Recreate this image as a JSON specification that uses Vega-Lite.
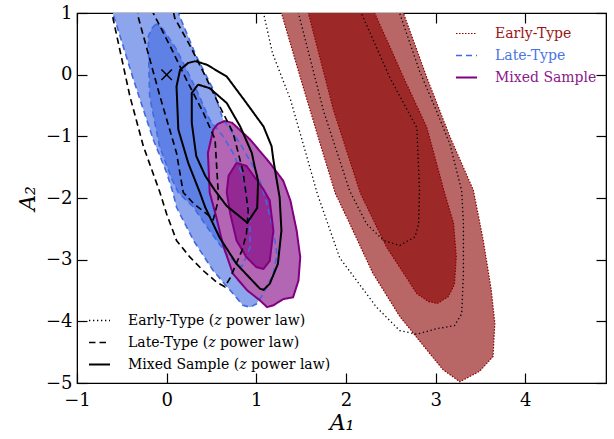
{
  "$schema": "https://vega.github.io/schema/vega-lite/v6.json",
  "width": 529,
  "height": 370,
  "autosize": {"type": "none"},
  "padding": {"left": 77, "top": 13, "right": 8, "bottom": 56},
  "config": {
    "font": "DejaVu Serif",
    "view": {"stroke": "black", "strokeWidth": 1.2},
    "axis": {
      "grid": false,
      "domainColor": "black",
      "tickColor": "black",
      "labelColor": "black",
      "titleColor": "black",
      "labelFont": "DejaVu Serif",
      "titleFont": "DejaVu Serif",
      "labelFontSize": 18,
      "tickSize": -10,
      "tickWidth": 1.2,
      "labelFlush": false,
      "labelOverlap": false,
      "titleFontWeight": "normal",
      "titleFontStyle": "italic",
      "titleFontSize": 22
    },
    "legend": {"labelFont": "DejaVu Serif", "labelLimit": 400}
  },
  "datasets": {
    "regions": [
      {"region": "a", "sample": "Early-Type", "i": 0, "x": 1.23, "y": 1.25},
      {"region": "a", "sample": "Early-Type", "i": 1, "x": 1.28, "y": 1.0},
      {"region": "a", "sample": "Early-Type", "i": 2, "x": 1.49, "y": -0.04},
      {"region": "a", "sample": "Early-Type", "i": 3, "x": 1.71, "y": -1.11},
      {"region": "a", "sample": "Early-Type", "i": 4, "x": 1.88, "y": -1.92},
      {"region": "a", "sample": "Early-Type", "i": 5, "x": 2.04, "y": -2.41},
      {"region": "a", "sample": "Early-Type", "i": 6, "x": 2.3, "y": -3.22},
      {"region": "a", "sample": "Early-Type", "i": 7, "x": 2.6, "y": -3.92},
      {"region": "a", "sample": "Early-Type", "i": 8, "x": 2.9, "y": -4.46},
      {"region": "a", "sample": "Early-Type", "i": 9, "x": 3.08, "y": -4.78},
      {"region": "a", "sample": "Early-Type", "i": 10, "x": 3.27, "y": -4.98},
      {"region": "a", "sample": "Early-Type", "i": 11, "x": 3.49, "y": -4.81},
      {"region": "a", "sample": "Early-Type", "i": 12, "x": 3.64, "y": -4.57},
      {"region": "a", "sample": "Early-Type", "i": 13, "x": 3.66, "y": -4.03},
      {"region": "a", "sample": "Early-Type", "i": 14, "x": 3.62, "y": -3.49},
      {"region": "a", "sample": "Early-Type", "i": 15, "x": 3.53, "y": -2.68},
      {"region": "a", "sample": "Early-Type", "i": 16, "x": 3.42, "y": -1.87},
      {"region": "a", "sample": "Early-Type", "i": 17, "x": 3.16, "y": -1.01},
      {"region": "a", "sample": "Early-Type", "i": 18, "x": 2.9, "y": -0.04},
      {"region": "a", "sample": "Early-Type", "i": 19, "x": 2.64, "y": 1.0},
      {"region": "a", "sample": "Early-Type", "i": 20, "x": 2.58, "y": 1.25},
      {"region": "a", "sample": "Early-Type", "i": 21, "x": 1.23, "y": 1.25},

      {"region": "b", "sample": "Early-Type", "i": 0, "x": 1.54, "y": 1.25},
      {"region": "b", "sample": "Early-Type", "i": 1, "x": 1.58, "y": 1.0},
      {"region": "b", "sample": "Early-Type", "i": 2, "x": 1.86, "y": -0.57},
      {"region": "b", "sample": "Early-Type", "i": 3, "x": 2.16, "y": -1.92},
      {"region": "b", "sample": "Early-Type", "i": 4, "x": 2.45, "y": -2.79},
      {"region": "b", "sample": "Early-Type", "i": 5, "x": 2.79, "y": -3.55},
      {"region": "b", "sample": "Early-Type", "i": 6, "x": 2.92, "y": -3.68},
      {"region": "b", "sample": "Early-Type", "i": 7, "x": 3.02, "y": -3.71},
      {"region": "b", "sample": "Early-Type", "i": 8, "x": 3.14, "y": -3.6},
      {"region": "b", "sample": "Early-Type", "i": 9, "x": 3.21, "y": -3.4},
      {"region": "b", "sample": "Early-Type", "i": 10, "x": 3.23, "y": -2.95},
      {"region": "b", "sample": "Early-Type", "i": 11, "x": 3.2, "y": -2.41},
      {"region": "b", "sample": "Early-Type", "i": 12, "x": 3.1, "y": -1.92},
      {"region": "b", "sample": "Early-Type", "i": 13, "x": 2.9, "y": -0.85},
      {"region": "b", "sample": "Early-Type", "i": 14, "x": 2.64, "y": -0.04},
      {"region": "b", "sample": "Early-Type", "i": 15, "x": 2.32, "y": 1.0},
      {"region": "b", "sample": "Early-Type", "i": 16, "x": 2.25, "y": 1.25},
      {"region": "b", "sample": "Early-Type", "i": 17, "x": 1.54, "y": 1.25},

      {"region": "c", "sample": "Late-Type", "i": 0, "x": -0.65, "y": 1.27},
      {"region": "c", "sample": "Late-Type", "i": 1, "x": -0.6, "y": 1.0},
      {"region": "c", "sample": "Late-Type", "i": 2, "x": -0.37, "y": -0.08},
      {"region": "c", "sample": "Late-Type", "i": 3, "x": -0.15, "y": -1.05},
      {"region": "c", "sample": "Late-Type", "i": 4, "x": 0.0, "y": -1.59},
      {"region": "c", "sample": "Late-Type", "i": 5, "x": 0.07, "y": -1.91},
      {"region": "c", "sample": "Late-Type", "i": 6, "x": 0.11, "y": -2.15},
      {"region": "c", "sample": "Late-Type", "i": 7, "x": 0.3, "y": -2.69},
      {"region": "c", "sample": "Late-Type", "i": 8, "x": 0.52, "y": -3.18},
      {"region": "c", "sample": "Late-Type", "i": 9, "x": 0.71, "y": -3.5},
      {"region": "c", "sample": "Late-Type", "i": 10, "x": 0.85, "y": -3.74},
      {"region": "c", "sample": "Late-Type", "i": 11, "x": 0.93, "y": -3.77},
      {"region": "c", "sample": "Late-Type", "i": 12, "x": 1.0, "y": -3.72},
      {"region": "c", "sample": "Late-Type", "i": 13, "x": 1.08, "y": -3.55},
      {"region": "c", "sample": "Late-Type", "i": 14, "x": 1.19, "y": -3.23},
      {"region": "c", "sample": "Late-Type", "i": 15, "x": 1.23, "y": -2.91},
      {"region": "c", "sample": "Late-Type", "i": 16, "x": 1.19, "y": -2.53},
      {"region": "c", "sample": "Late-Type", "i": 17, "x": 1.12, "y": -2.1},
      {"region": "c", "sample": "Late-Type", "i": 18, "x": 1.04, "y": -1.72},
      {"region": "c", "sample": "Late-Type", "i": 19, "x": 0.95, "y": -1.45},
      {"region": "c", "sample": "Late-Type", "i": 20, "x": 0.82, "y": -1.12},
      {"region": "c", "sample": "Late-Type", "i": 21, "x": 0.63, "y": -0.73},
      {"region": "c", "sample": "Late-Type", "i": 22, "x": 0.52, "y": -0.24},
      {"region": "c", "sample": "Late-Type", "i": 23, "x": 0.33, "y": 0.3},
      {"region": "c", "sample": "Late-Type", "i": 24, "x": 0.13, "y": 1.0},
      {"region": "c", "sample": "Late-Type", "i": 25, "x": 0.07, "y": 1.27},
      {"region": "c", "sample": "Late-Type", "i": 26, "x": -0.65, "y": 1.27},

      {"region": "d", "sample": "Late-Type", "i": 0, "x": -0.12, "y": 0.82},
      {"region": "d", "sample": "Late-Type", "i": 1, "x": -0.16, "y": 0.76},
      {"region": "d", "sample": "Late-Type", "i": 2, "x": -0.205, "y": 0.62},
      {"region": "d", "sample": "Late-Type", "i": 3, "x": -0.2, "y": 0.22},
      {"region": "d", "sample": "Late-Type", "i": 4, "x": -0.19, "y": -0.35},
      {"region": "d", "sample": "Late-Type", "i": 5, "x": -0.08, "y": -1.16},
      {"region": "d", "sample": "Late-Type", "i": 6, "x": 0.06, "y": -1.7},
      {"region": "d", "sample": "Late-Type", "i": 7, "x": 0.13, "y": -1.91},
      {"region": "d", "sample": "Late-Type", "i": 8, "x": 0.3, "y": -2.15},
      {"region": "d", "sample": "Late-Type", "i": 9, "x": 0.48, "y": -2.53},
      {"region": "d", "sample": "Late-Type", "i": 10, "x": 0.67, "y": -2.91},
      {"region": "d", "sample": "Late-Type", "i": 11, "x": 0.78, "y": -3.07},
      {"region": "d", "sample": "Late-Type", "i": 12, "x": 0.84, "y": -3.11},
      {"region": "d", "sample": "Late-Type", "i": 13, "x": 0.93, "y": -2.8},
      {"region": "d", "sample": "Late-Type", "i": 14, "x": 0.93, "y": -2.37},
      {"region": "d", "sample": "Late-Type", "i": 15, "x": 0.89, "y": -1.99},
      {"region": "d", "sample": "Late-Type", "i": 16, "x": 0.85, "y": -1.64},
      {"region": "d", "sample": "Late-Type", "i": 17, "x": 0.74, "y": -1.27},
      {"region": "d", "sample": "Late-Type", "i": 18, "x": 0.63, "y": -1.0},
      {"region": "d", "sample": "Late-Type", "i": 19, "x": 0.48, "y": -0.73},
      {"region": "d", "sample": "Late-Type", "i": 20, "x": 0.33, "y": -0.24},
      {"region": "d", "sample": "Late-Type", "i": 21, "x": 0.11, "y": 0.41},
      {"region": "d", "sample": "Late-Type", "i": 22, "x": -0.06, "y": 0.78},
      {"region": "d", "sample": "Late-Type", "i": 23, "x": -0.12, "y": 0.82},

      {"region": "e", "sample": "Mixed Sample", "i": 0, "x": 0.65, "y": -0.75},
      {"region": "e", "sample": "Mixed Sample", "i": 1, "x": 0.57, "y": -0.8},
      {"region": "e", "sample": "Mixed Sample", "i": 2, "x": 0.52, "y": -0.89},
      {"region": "e", "sample": "Mixed Sample", "i": 3, "x": 0.46, "y": -1.27},
      {"region": "e", "sample": "Mixed Sample", "i": 4, "x": 0.48, "y": -1.91},
      {"region": "e", "sample": "Mixed Sample", "i": 5, "x": 0.55, "y": -2.29},
      {"region": "e", "sample": "Mixed Sample", "i": 6, "x": 0.63, "y": -2.77},
      {"region": "e", "sample": "Mixed Sample", "i": 7, "x": 0.74, "y": -3.23},
      {"region": "e", "sample": "Mixed Sample", "i": 8, "x": 0.9, "y": -3.5},
      {"region": "e", "sample": "Mixed Sample", "i": 9, "x": 1.04, "y": -3.66},
      {"region": "e", "sample": "Mixed Sample", "i": 10, "x": 1.12, "y": -3.77},
      {"region": "e", "sample": "Mixed Sample", "i": 11, "x": 1.19, "y": -3.74},
      {"region": "e", "sample": "Mixed Sample", "i": 12, "x": 1.3, "y": -3.64},
      {"region": "e", "sample": "Mixed Sample", "i": 13, "x": 1.41, "y": -3.61},
      {"region": "e", "sample": "Mixed Sample", "i": 14, "x": 1.47, "y": -3.34},
      {"region": "e", "sample": "Mixed Sample", "i": 15, "x": 1.49, "y": -2.96},
      {"region": "e", "sample": "Mixed Sample", "i": 16, "x": 1.45, "y": -2.53},
      {"region": "e", "sample": "Mixed Sample", "i": 17, "x": 1.38, "y": -2.04},
      {"region": "e", "sample": "Mixed Sample", "i": 18, "x": 1.3, "y": -1.72},
      {"region": "e", "sample": "Mixed Sample", "i": 19, "x": 1.15, "y": -1.43},
      {"region": "e", "sample": "Mixed Sample", "i": 20, "x": 0.93, "y": -1.05},
      {"region": "e", "sample": "Mixed Sample", "i": 21, "x": 0.73, "y": -0.78},
      {"region": "e", "sample": "Mixed Sample", "i": 22, "x": 0.65, "y": -0.75},

      {"region": "f", "sample": "Mixed Sample", "i": 0, "x": 0.78, "y": -1.43},
      {"region": "f", "sample": "Mixed Sample", "i": 1, "x": 0.69, "y": -1.64},
      {"region": "f", "sample": "Mixed Sample", "i": 2, "x": 0.67, "y": -1.91},
      {"region": "f", "sample": "Mixed Sample", "i": 3, "x": 0.71, "y": -2.26},
      {"region": "f", "sample": "Mixed Sample", "i": 4, "x": 0.78, "y": -2.69},
      {"region": "f", "sample": "Mixed Sample", "i": 5, "x": 0.89, "y": -2.96},
      {"region": "f", "sample": "Mixed Sample", "i": 6, "x": 1.0, "y": -3.12},
      {"region": "f", "sample": "Mixed Sample", "i": 7, "x": 1.08, "y": -3.15},
      {"region": "f", "sample": "Mixed Sample", "i": 8, "x": 1.15, "y": -3.02},
      {"region": "f", "sample": "Mixed Sample", "i": 9, "x": 1.19, "y": -2.53},
      {"region": "f", "sample": "Mixed Sample", "i": 10, "x": 1.15, "y": -2.04},
      {"region": "f", "sample": "Mixed Sample", "i": 11, "x": 1.08, "y": -1.86},
      {"region": "f", "sample": "Mixed Sample", "i": 12, "x": 0.98, "y": -1.66},
      {"region": "f", "sample": "Mixed Sample", "i": 13, "x": 0.89, "y": -1.48},
      {"region": "f", "sample": "Mixed Sample", "i": 14, "x": 0.78, "y": -1.43}
    ],
    "contours": [
      {"contour": "E1", "sample": "Early-Type (𝑧 power law)", "i": 0, "x": 1.04, "y": 1.27},
      {"contour": "E1", "sample": "Early-Type (𝑧 power law)", "i": 1, "x": 1.08, "y": 1.0},
      {"contour": "E1", "sample": "Early-Type (𝑧 power law)", "i": 2, "x": 1.18, "y": 0.35},
      {"contour": "E1", "sample": "Early-Type (𝑧 power law)", "i": 3, "x": 1.38, "y": -0.4},
      {"contour": "E1", "sample": "Early-Type (𝑧 power law)", "i": 4, "x": 1.54, "y": -1.21},
      {"contour": "E1", "sample": "Early-Type (𝑧 power law)", "i": 5, "x": 1.68, "y": -1.93},
      {"contour": "E1", "sample": "Early-Type (𝑧 power law)", "i": 6, "x": 1.93, "y": -2.97},
      {"contour": "E1", "sample": "Early-Type (𝑧 power law)", "i": 7, "x": 2.34, "y": -3.77},
      {"contour": "E1", "sample": "Early-Type (𝑧 power law)", "i": 8, "x": 2.6, "y": -4.15},
      {"contour": "E1", "sample": "Early-Type (𝑧 power law)", "i": 9, "x": 2.79, "y": -4.21},
      {"contour": "E1", "sample": "Early-Type (𝑧 power law)", "i": 10, "x": 3.01, "y": -4.12},
      {"contour": "E1", "sample": "Early-Type (𝑧 power law)", "i": 11, "x": 3.21, "y": -4.07},
      {"contour": "E1", "sample": "Early-Type (𝑧 power law)", "i": 12, "x": 3.29, "y": -3.88},
      {"contour": "E1", "sample": "Early-Type (𝑧 power law)", "i": 13, "x": 3.31, "y": -3.23},
      {"contour": "E1", "sample": "Early-Type (𝑧 power law)", "i": 14, "x": 3.31, "y": -2.42},
      {"contour": "E1", "sample": "Early-Type (𝑧 power law)", "i": 15, "x": 3.29, "y": -1.88},
      {"contour": "E1", "sample": "Early-Type (𝑧 power law)", "i": 16, "x": 3.16, "y": -1.13},
      {"contour": "E1", "sample": "Early-Type (𝑧 power law)", "i": 17, "x": 3.01, "y": -0.59},
      {"contour": "E1", "sample": "Early-Type (𝑧 power law)", "i": 18, "x": 2.82, "y": 0.06},
      {"contour": "E1", "sample": "Early-Type (𝑧 power law)", "i": 19, "x": 2.6, "y": 0.99},
      {"contour": "E1", "sample": "Early-Type (𝑧 power law)", "i": 20, "x": 2.53, "y": 1.27},

      {"contour": "E2", "sample": "Early-Type (𝑧 power law)", "i": 0, "x": 1.43, "y": 1.27},
      {"contour": "E2", "sample": "Early-Type (𝑧 power law)", "i": 1, "x": 1.47, "y": 1.0},
      {"contour": "E2", "sample": "Early-Type (𝑧 power law)", "i": 2, "x": 1.75, "y": -0.59},
      {"contour": "E2", "sample": "Early-Type (𝑧 power law)", "i": 3, "x": 2.04, "y": -1.88},
      {"contour": "E2", "sample": "Early-Type (𝑧 power law)", "i": 4, "x": 2.23, "y": -2.42},
      {"contour": "E2", "sample": "Early-Type (𝑧 power law)", "i": 5, "x": 2.42, "y": -2.69},
      {"contour": "E2", "sample": "Early-Type (𝑧 power law)", "i": 6, "x": 2.6, "y": -2.77},
      {"contour": "E2", "sample": "Early-Type (𝑧 power law)", "i": 7, "x": 2.77, "y": -2.63},
      {"contour": "E2", "sample": "Early-Type (𝑧 power law)", "i": 8, "x": 2.81, "y": -2.42},
      {"contour": "E2", "sample": "Early-Type (𝑧 power law)", "i": 9, "x": 2.82, "y": -1.88},
      {"contour": "E2", "sample": "Early-Type (𝑧 power law)", "i": 10, "x": 2.79, "y": -0.86},
      {"contour": "E2", "sample": "Early-Type (𝑧 power law)", "i": 11, "x": 2.49, "y": -0.05},
      {"contour": "E2", "sample": "Early-Type (𝑧 power law)", "i": 12, "x": 2.17, "y": 1.0},
      {"contour": "E2", "sample": "Early-Type (𝑧 power law)", "i": 13, "x": 2.12, "y": 1.27},

      {"contour": "L1", "sample": "Late-Type (𝑧 power law)", "i": 0, "x": -0.64, "y": 1.27},
      {"contour": "L1", "sample": "Late-Type (𝑧 power law)", "i": 1, "x": -0.595, "y": 0.89},
      {"contour": "L1", "sample": "Late-Type (𝑧 power law)", "i": 2, "x": -0.41, "y": -0.35},
      {"contour": "L1", "sample": "Late-Type (𝑧 power law)", "i": 3, "x": -0.26, "y": -1.16},
      {"contour": "L1", "sample": "Late-Type (𝑧 power law)", "i": 4, "x": -0.075, "y": -1.91},
      {"contour": "L1", "sample": "Late-Type (𝑧 power law)", "i": 5, "x": 0.0, "y": -2.26},
      {"contour": "L1", "sample": "Late-Type (𝑧 power law)", "i": 6, "x": 0.11, "y": -2.69},
      {"contour": "L1", "sample": "Late-Type (𝑧 power law)", "i": 7, "x": 0.26, "y": -2.96},
      {"contour": "L1", "sample": "Late-Type (𝑧 power law)", "i": 8, "x": 0.41, "y": -3.18},
      {"contour": "L1", "sample": "Late-Type (𝑧 power law)", "i": 9, "x": 0.56, "y": -3.37},
      {"contour": "L1", "sample": "Late-Type (𝑧 power law)", "i": 10, "x": 0.65, "y": -3.44},
      {"contour": "L1", "sample": "Late-Type (𝑧 power law)", "i": 11, "x": 0.71, "y": -3.29},
      {"contour": "L1", "sample": "Late-Type (𝑧 power law)", "i": 12, "x": 0.76, "y": -3.12},
      {"contour": "L1", "sample": "Late-Type (𝑧 power law)", "i": 13, "x": 0.84, "y": -2.85},
      {"contour": "L1", "sample": "Late-Type (𝑧 power law)", "i": 14, "x": 0.89, "y": -2.58},
      {"contour": "L1", "sample": "Late-Type (𝑧 power law)", "i": 15, "x": 0.91, "y": -2.21},
      {"contour": "L1", "sample": "Late-Type (𝑧 power law)", "i": 16, "x": 0.88, "y": -1.88},
      {"contour": "L1", "sample": "Late-Type (𝑧 power law)", "i": 17, "x": 0.85, "y": -1.56},
      {"contour": "L1", "sample": "Late-Type (𝑧 power law)", "i": 18, "x": 0.74, "y": -0.94},
      {"contour": "L1", "sample": "Late-Type (𝑧 power law)", "i": 19, "x": 0.59, "y": -0.51},
      {"contour": "L1", "sample": "Late-Type (𝑧 power law)", "i": 20, "x": 0.43, "y": -0.02},
      {"contour": "L1", "sample": "Late-Type (𝑧 power law)", "i": 21, "x": 0.26, "y": 0.47},
      {"contour": "L1", "sample": "Late-Type (𝑧 power law)", "i": 22, "x": 0.09, "y": 0.92},
      {"contour": "L1", "sample": "Late-Type (𝑧 power law)", "i": 23, "x": 0.04, "y": 1.27},

      {"contour": "L2", "sample": "Late-Type (𝑧 power law)", "i": 0, "x": -0.33, "y": 1.27},
      {"contour": "L2", "sample": "Late-Type (𝑧 power law)", "i": 1, "x": -0.32, "y": 0.95},
      {"contour": "L2", "sample": "Late-Type (𝑧 power law)", "i": 2, "x": -0.075, "y": -0.35},
      {"contour": "L2", "sample": "Late-Type (𝑧 power law)", "i": 3, "x": 0.11, "y": -1.27},
      {"contour": "L2", "sample": "Late-Type (𝑧 power law)", "i": 4, "x": 0.185, "y": -1.91},
      {"contour": "L2", "sample": "Late-Type (𝑧 power law)", "i": 5, "x": 0.3, "y": -2.09},
      {"contour": "L2", "sample": "Late-Type (𝑧 power law)", "i": 6, "x": 0.45, "y": -2.26},
      {"contour": "L2", "sample": "Late-Type (𝑧 power law)", "i": 7, "x": 0.52, "y": -2.35},
      {"contour": "L2", "sample": "Late-Type (𝑧 power law)", "i": 8, "x": 0.575, "y": -2.04},
      {"contour": "L2", "sample": "Late-Type (𝑧 power law)", "i": 9, "x": 0.575, "y": -1.91},
      {"contour": "L2", "sample": "Late-Type (𝑧 power law)", "i": 10, "x": 0.54, "y": -1.05},
      {"contour": "L2", "sample": "Late-Type (𝑧 power law)", "i": 11, "x": 0.41, "y": -0.62},
      {"contour": "L2", "sample": "Late-Type (𝑧 power law)", "i": 12, "x": 0.22, "y": -0.08},
      {"contour": "L2", "sample": "Late-Type (𝑧 power law)", "i": 13, "x": 0.04, "y": 0.46},
      {"contour": "L2", "sample": "Late-Type (𝑧 power law)", "i": 14, "x": -0.15, "y": 1.0},
      {"contour": "L2", "sample": "Late-Type (𝑧 power law)", "i": 15, "x": -0.22, "y": 1.27},

      {"contour": "M1", "sample": "Mixed Sample (𝑧 power law)", "i": 0, "x": 0.32, "y": 0.22},
      {"contour": "M1", "sample": "Mixed Sample (𝑧 power law)", "i": 1, "x": 0.24, "y": 0.19},
      {"contour": "M1", "sample": "Mixed Sample (𝑧 power law)", "i": 2, "x": 0.15, "y": 0.08},
      {"contour": "M1", "sample": "Mixed Sample (𝑧 power law)", "i": 3, "x": 0.11, "y": -0.19},
      {"contour": "M1", "sample": "Mixed Sample (𝑧 power law)", "i": 4, "x": 0.13, "y": -0.89},
      {"contour": "M1", "sample": "Mixed Sample (𝑧 power law)", "i": 5, "x": 0.24, "y": -1.43},
      {"contour": "M1", "sample": "Mixed Sample (𝑧 power law)", "i": 6, "x": 0.37, "y": -1.91},
      {"contour": "M1", "sample": "Mixed Sample (𝑧 power law)", "i": 7, "x": 0.43, "y": -2.15},
      {"contour": "M1", "sample": "Mixed Sample (𝑧 power law)", "i": 8, "x": 0.59, "y": -2.64},
      {"contour": "M1", "sample": "Mixed Sample (𝑧 power law)", "i": 9, "x": 0.78, "y": -3.07},
      {"contour": "M1", "sample": "Mixed Sample (𝑧 power law)", "i": 10, "x": 1.04, "y": -3.47},
      {"contour": "M1", "sample": "Mixed Sample (𝑧 power law)", "i": 11, "x": 1.08, "y": -3.49},
      {"contour": "M1", "sample": "Mixed Sample (𝑧 power law)", "i": 12, "x": 1.15, "y": -3.39},
      {"contour": "M1", "sample": "Mixed Sample (𝑧 power law)", "i": 13, "x": 1.24, "y": -3.07},
      {"contour": "M1", "sample": "Mixed Sample (𝑧 power law)", "i": 14, "x": 1.28, "y": -2.53},
      {"contour": "M1", "sample": "Mixed Sample (𝑧 power law)", "i": 15, "x": 1.26, "y": -1.99},
      {"contour": "M1", "sample": "Mixed Sample (𝑧 power law)", "i": 16, "x": 1.21, "y": -1.56},
      {"contour": "M1", "sample": "Mixed Sample (𝑧 power law)", "i": 17, "x": 1.19, "y": -1.38},
      {"contour": "M1", "sample": "Mixed Sample (𝑧 power law)", "i": 18, "x": 1.17, "y": -1.16},
      {"contour": "M1", "sample": "Mixed Sample (𝑧 power law)", "i": 19, "x": 1.08, "y": -0.84},
      {"contour": "M1", "sample": "Mixed Sample (𝑧 power law)", "i": 20, "x": 0.89, "y": -0.46},
      {"contour": "M1", "sample": "Mixed Sample (𝑧 power law)", "i": 21, "x": 0.67, "y": -0.03},
      {"contour": "M1", "sample": "Mixed Sample (𝑧 power law)", "i": 22, "x": 0.45, "y": 0.16},
      {"contour": "M1", "sample": "Mixed Sample (𝑧 power law)", "i": 23, "x": 0.32, "y": 0.22},

      {"contour": "M2", "sample": "Mixed Sample (𝑧 power law)", "i": 0, "x": 0.35, "y": -0.16},
      {"contour": "M2", "sample": "Mixed Sample (𝑧 power law)", "i": 1, "x": 0.28, "y": -0.3},
      {"contour": "M2", "sample": "Mixed Sample (𝑧 power law)", "i": 2, "x": 0.28, "y": -0.78},
      {"contour": "M2", "sample": "Mixed Sample (𝑧 power law)", "i": 3, "x": 0.33, "y": -1.32},
      {"contour": "M2", "sample": "Mixed Sample (𝑧 power law)", "i": 4, "x": 0.43, "y": -1.64},
      {"contour": "M2", "sample": "Mixed Sample (𝑧 power law)", "i": 5, "x": 0.54, "y": -1.88},
      {"contour": "M2", "sample": "Mixed Sample (𝑧 power law)", "i": 6, "x": 0.67, "y": -2.13},
      {"contour": "M2", "sample": "Mixed Sample (𝑧 power law)", "i": 7, "x": 0.9, "y": -2.4},
      {"contour": "M2", "sample": "Mixed Sample (𝑧 power law)", "i": 8, "x": 1.01, "y": -2.16},
      {"contour": "M2", "sample": "Mixed Sample (𝑧 power law)", "i": 9, "x": 1.02, "y": -1.72},
      {"contour": "M2", "sample": "Mixed Sample (𝑧 power law)", "i": 10, "x": 0.98, "y": -1.48},
      {"contour": "M2", "sample": "Mixed Sample (𝑧 power law)", "i": 11, "x": 0.95, "y": -1.27},
      {"contour": "M2", "sample": "Mixed Sample (𝑧 power law)", "i": 12, "x": 0.82, "y": -0.84},
      {"contour": "M2", "sample": "Mixed Sample (𝑧 power law)", "i": 13, "x": 0.67, "y": -0.46},
      {"contour": "M2", "sample": "Mixed Sample (𝑧 power law)", "i": 14, "x": 0.48, "y": -0.22},
      {"contour": "M2", "sample": "Mixed Sample (𝑧 power law)", "i": 15, "x": 0.35, "y": -0.16}
    ],
    "marker": [
      {"x": 0, "y": 0}
    ]
  },
  "layer": [
    {
      "data": {"name": "regions"},
      "mark": {"type": "line", "clip": true, "strokeWidth": 0, "strokeOpacity": 0},
      "encoding": {
        "x": {"field": "x", "type": "quantitative", "scale": {"domain": [-1, 4.9], "nice": false, "zero": false},
              "axis": {"values": [-1, 0, 1, 2, 3, 4], "title": "A₁", "labelPadding": 18, "titlePadding": 3}},
        "y": {"field": "y", "type": "quantitative", "scale": {"domain": [-5, 1], "nice": false, "zero": false},
              "axis": {"values": [1, 0, -1, -2, -3, -4, -5], "title": "A₂", "labelPadding": 15, "titlePadding": 6}},
        "order": {"field": "i", "type": "quantitative"},
        "detail": {"field": "region", "type": "nominal"},
        "fill": {"field": "region", "type": "nominal",
                 "scale": {"domain": ["a", "b", "c", "d", "e", "f"], "range": ["#b96666", "#9c2828", "#8da5ed", "#5f81e6", "#b366b3", "#942994"]},
                 "legend": null}
      }
    },
    {
      "data": {"name": "regions"},
      "mark": {"type": "line", "clip": true},
      "encoding": {
        "x": {"field": "x", "type": "quantitative", "scale": {"domain": [-1, 4.9], "nice": false, "zero": false}, "axis": null},
        "y": {"field": "y", "type": "quantitative", "scale": {"domain": [-5, 1], "nice": false, "zero": false}, "axis": null},
        "order": {"field": "i", "type": "quantitative"},
        "detail": {"field": "region", "type": "nominal"},
        "stroke": {"field": "sample", "type": "nominal",
                   "scale": {"domain": ["Early-Type", "Late-Type", "Mixed Sample"], "range": ["#8b0000", "#4169e1", "#800080"]},
                   "legend": {"orient": "top-right", "offset": 9, "title": null, "symbolType": "stroke", "symbolSize": 441, "symbolStrokeWidth": 3, "labelFontSize": 14, "labelOffset": 17, "rowPadding": 3, "padding": 0,
                              "labelColor": {"expr": "datum.label == 'Early-Type' ? '#991616' : datum.label == 'Late-Type' ? '#4a74e4' : '#8a1a8a'"}}},
        "strokeDash": {"field": "sample", "type": "nominal",
                       "scale": {"domain": ["Early-Type", "Late-Type", "Mixed Sample"], "range": [[1.5, 1.5], [6, 4], [1, 0]]},
                       "legend": {"orient": "top-right", "offset": 9, "title": null, "symbolType": "stroke", "symbolSize": 441, "symbolStrokeWidth": 3, "labelFontSize": 14, "labelOffset": 17, "rowPadding": 3, "padding": 0,
                                  "labelColor": {"expr": "datum.label == 'Early-Type' ? '#991616' : datum.label == 'Late-Type' ? '#4a74e4' : '#8a1a8a'"}}},
        "strokeWidth": {"field": "sample", "type": "nominal",
                        "scale": {"domain": ["Early-Type", "Late-Type", "Mixed Sample"], "range": [1.2, 2, 2]},
                        "legend": null}
      }
    },
    {
      "data": {"name": "contours"},
      "mark": {"type": "line", "clip": true, "color": "black"},
      "encoding": {
        "x": {"field": "x", "type": "quantitative", "scale": {"domain": [-1, 4.9], "nice": false, "zero": false}, "axis": null},
        "y": {"field": "y", "type": "quantitative", "scale": {"domain": [-5, 1], "nice": false, "zero": false}, "axis": null},
        "order": {"field": "i", "type": "quantitative"},
        "detail": {"field": "contour", "type": "nominal"},
        "strokeDash": {"field": "sample", "type": "nominal",
                       "scale": {"domain": ["Early-Type (𝑧 power law)", "Late-Type (𝑧 power law)", "Mixed Sample (𝑧 power law)"], "range": [[1.3, 2.7], [6.5, 4], [1, 0]]},
                       "legend": {"orient": "bottom-left", "offset": 11, "title": null, "symbolType": "stroke", "symbolSize": 441, "symbolStrokeWidth": 2, "symbolStrokeColor": "black", "labelFontSize": 14, "labelOffset": 17, "rowPadding": 3, "padding": 0, "labelColor": "black"}},
        "strokeWidth": {"field": "sample", "type": "nominal",
                        "scale": {"domain": ["Early-Type (𝑧 power law)", "Late-Type (𝑧 power law)", "Mixed Sample (𝑧 power law)"], "range": [1.3, 2, 2]},
                        "legend": null}
      }
    },
    {
      "data": {"name": "marker"},
      "mark": {"type": "point", "shape": "M-1,-1L1,1M-1,1L1,-1", "filled": false, "stroke": "black", "strokeWidth": 1.5, "size": 110, "opacity": 1},
      "encoding": {
        "x": {"field": "x", "type": "quantitative", "scale": {"domain": [-1, 4.9], "nice": false, "zero": false},
              "axis": {"orient": "top", "values": [-1, 0, 1, 2, 3, 4], "labels": false, "title": null}},
        "y": {"field": "y", "type": "quantitative", "scale": {"domain": [-5, 1], "nice": false, "zero": false},
              "axis": {"orient": "right", "values": [1, 0, -1, -2, -3, -4, -5], "labels": false, "title": null}}
      }
    }
  ],
  "resolve": {
    "scale": {"stroke": "independent", "strokeDash": "independent", "strokeWidth": "independent"},
    "axis": {"x": "independent", "y": "independent"}
  }
}
